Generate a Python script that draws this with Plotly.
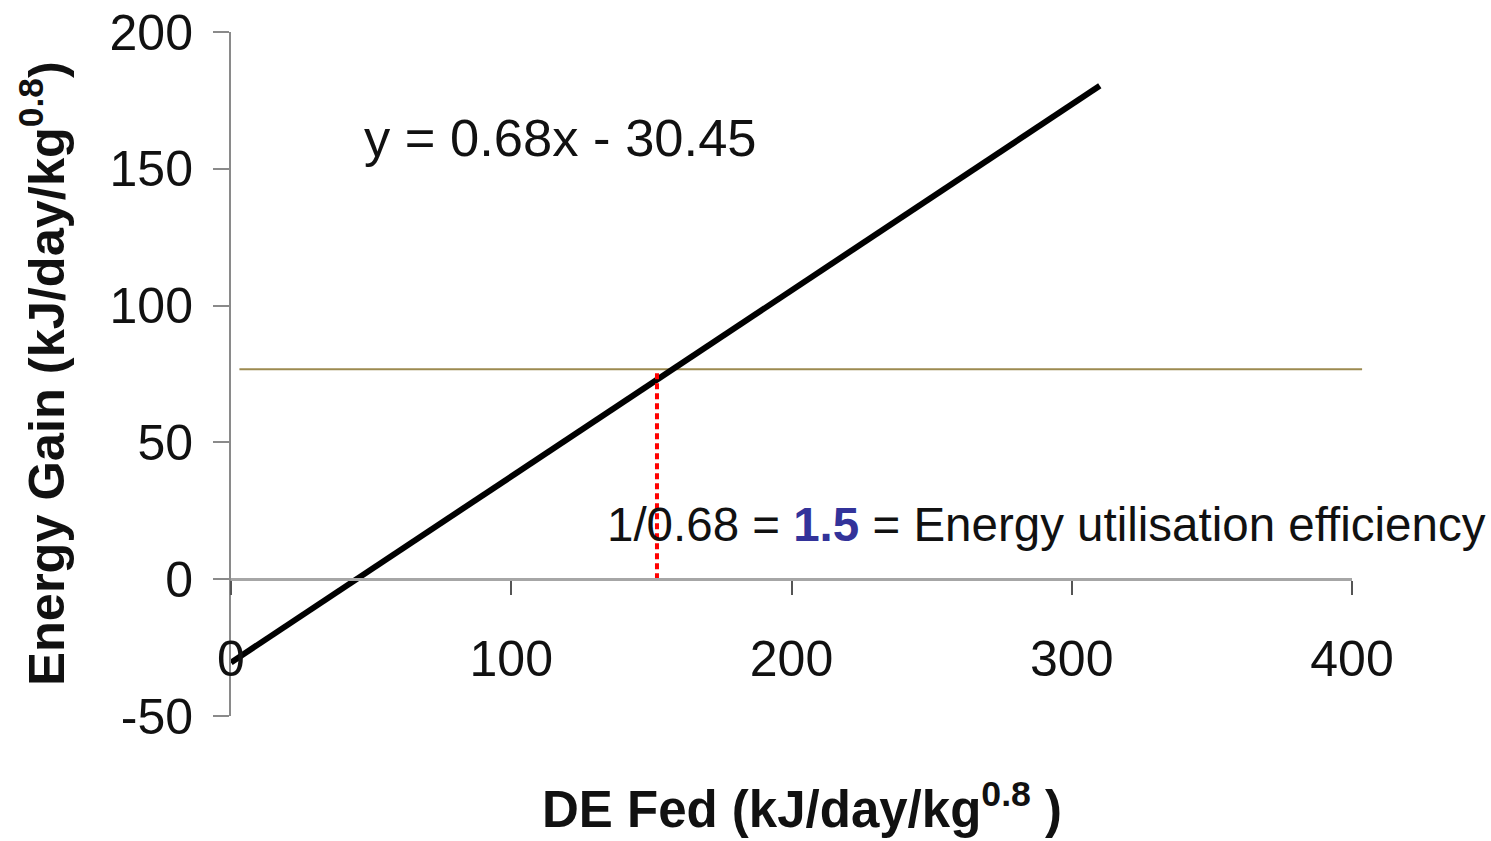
import plotly.graph_objects as go

# ---- data ----
fit_x = [0, 310]
fit_y = [-30.45, 180.35]
hline_y = 76.75
hline_x = [3, 403.6]
vline_x = 152
vline_y = [0, 76.75]
x_ticks = [0, 100, 200, 300, 400]
y_ticks = [-50, 0, 50, 100, 150, 200]
x_range = [0, 400]
y_range = [-50, 200]
eq_text = "y = 0.68x - 30.45"
eq_pos = (46.7, 161.5)
eff_pos = (133.5, 20.1)

FONT = "Liberation Sans, Arial, sans-serif"

fig = go.Figure()

# fitted regression line
fig.add_trace(go.Scatter(x=fit_x, y=fit_y, mode="lines",
                         line=dict(color="black", width=6), showlegend=False,
                         hoverinfo="skip"))
# red dotted vertical line
fig.add_trace(go.Scatter(x=[vline_x, vline_x], y=vline_y, mode="lines",
                         line=dict(color="#ff0000", width=4, dash="6px,4px"),
                         showlegend=False, hoverinfo="skip"))

# olive horizontal line (extends slightly beyond the plot area)
span = x_range[1] - x_range[0]
fig.add_shape(type="line", xref="paper", yref="y",
              x0=(hline_x[0] - x_range[0]) / span, x1=(hline_x[1] - x_range[0]) / span,
              y0=hline_y, y1=hline_y,
              line=dict(color="#9c8a50", width=2), layer="below")

fig.add_annotation(x=eq_pos[0], y=eq_pos[1], xref="x", yref="y",
                   text=eq_text, showarrow=False, xanchor="left", yanchor="middle",
                   font=dict(family=FONT, size=52.5, color="#111111"))
fig.add_annotation(x=eff_pos[0], y=eff_pos[1], xref="x", yref="y",
                   text="1/0.68 = <b><span style='color:#33339a'>1.5</span></b> = Energy utilisation efficiency",
                   showarrow=False, xanchor="left", yanchor="middle",
                   font=dict(family=FONT, size=47.5, color="#111111"))

# axis titles
fig.add_annotation(x=-0.168, y=0.5, xref="paper", yref="paper",
                   text="<b>Energy Gain (kJ/day/kg<sup>0.8</sup>)</b>", textangle=-90,
                   showarrow=False, xanchor="center", yanchor="middle",
                   font=dict(family=FONT, size=50.5, color="#111111"))
fig.add_annotation(x=0.509, y=-0.131, xref="paper", yref="paper",
                   text="<b>DE Fed (kJ/day/kg<sup>0.8</sup> )</b>",
                   showarrow=False, xanchor="center", yanchor="middle",
                   font=dict(family=FONT, size=51, color="#111111"))

zero_pos = (0 - y_range[0]) / (y_range[1] - y_range[0])

fig.update_layout(
    width=1491, height=841,
    margin=dict(l=231, r=139, t=32, b=125),
    paper_bgcolor="white", plot_bgcolor="white",
    font=dict(family=FONT, size=50, color="#111111"),
    xaxis=dict(range=x_range, tickvals=x_ticks, ticktext=[str(v) for v in x_ticks],
               showgrid=False, zeroline=False, showline=True, automargin=False,
               linecolor="#a6a6a6", linewidth=3,
               ticks="outside", ticklen=14, tickwidth=2, tickcolor="#555555",
               anchor="free", position=zero_pos, ticklabelstandoff=21,
               tickfont=dict(family=FONT, size=50, color="#111111")),
    yaxis=dict(range=y_range, tickvals=y_ticks, ticktext=[str(v) for v in y_ticks],
               showgrid=False, zeroline=False, showline=True, automargin=False,
               linecolor="#8a8a8a", linewidth=2,
               ticks="outside", ticklen=16, tickwidth=2, tickcolor="#8a8a8a",
               ticklabelstandoff=10,
               tickfont=dict(family=FONT, size=50, color="#111111")),
)

# remove the default page margin so the figure sits at the window's top-left corner
fig.write_html("out.html", config={"displayModeBar": False},
               post_script="document.body.style.margin='0';document.body.style.overflow='hidden';")
